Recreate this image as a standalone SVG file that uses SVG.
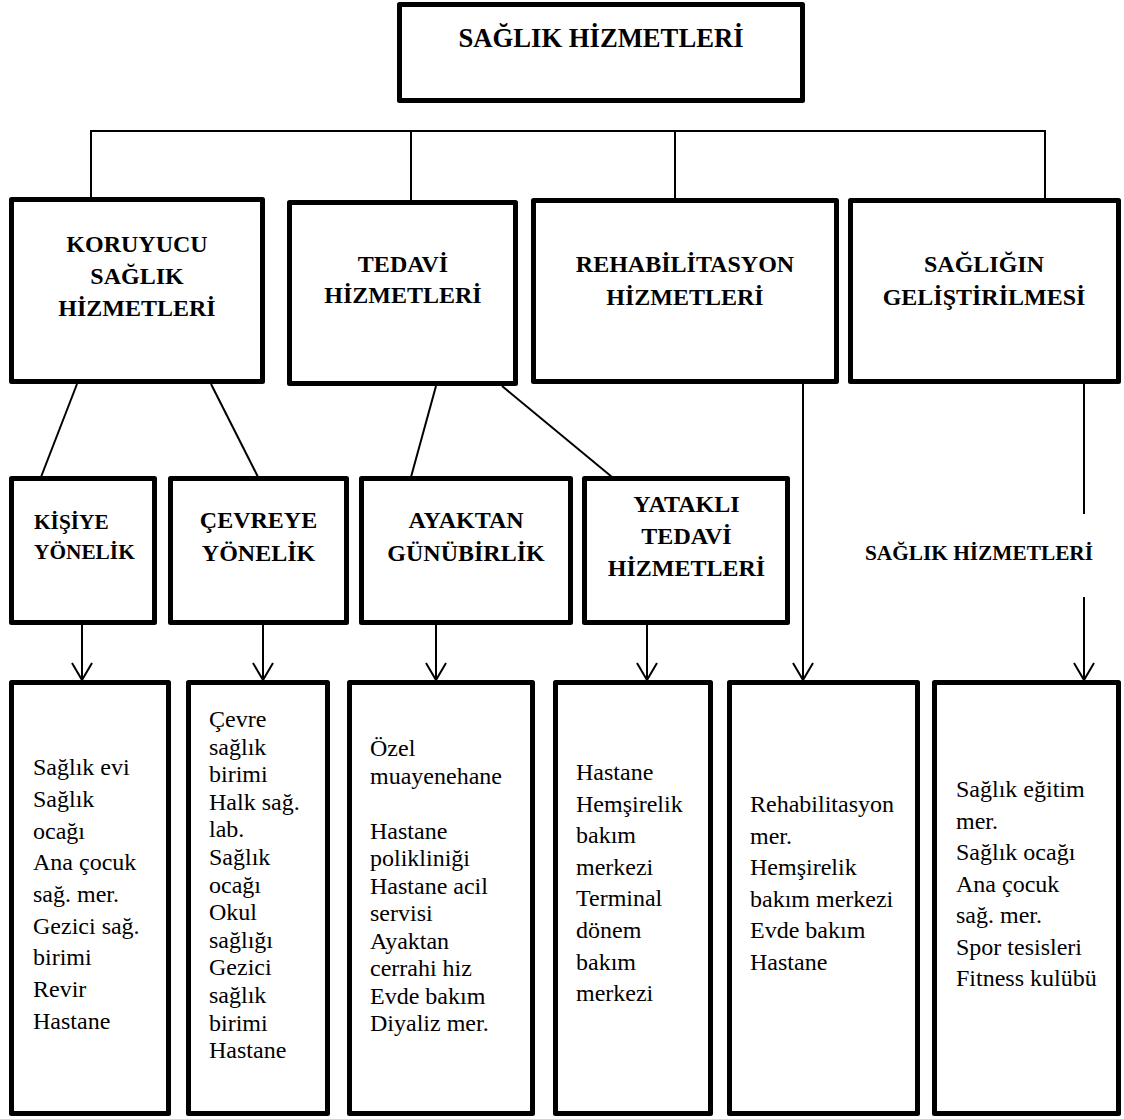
<svg xmlns="http://www.w3.org/2000/svg" width="1124" height="1119" viewBox="0 0 1124 1119">
<style>
  .box { fill: #fff; stroke: #000; stroke-width: 5; stroke-linejoin: round; }
  .ln { fill: none; stroke: #000; stroke-width: 2; }
  .arr { fill: none; stroke: #000; stroke-width: 2; marker-end: url(#ah); }
  text { font-family: 'Liberation Serif', 'Times New Roman', serif; fill: #000; }
  .h { font-weight: bold; }
  .h24 { font-size: 24px; text-anchor: middle; }
  .b { font-size: 24px; }
</style>
<defs>
  <marker id="ah" markerUnits="userSpaceOnUse" viewBox="-20 -12 22 24" markerWidth="22" markerHeight="24" refX="0" refY="0" orient="auto" overflow="visible">
    <path d="M -17 -10 L 0 0 L -17 10" fill="none" stroke="#000" stroke-width="2"/>
  </marker>
</defs>
<rect width="1124" height="1119" fill="#fff"/>

<g id="connectors">
  <path class="ln" d="M 91 199 V 131 H 1045 V 199"/>
  <path class="ln" d="M 411 131 V 201"/>
  <path class="ln" d="M 675 131 V 199"/>
  <path class="ln" d="M 77 384 L 41 477"/>
  <path class="ln" d="M 211 384 L 258 477"/>
  <path class="ln" d="M 436 386 L 411 477"/>
  <path class="ln" d="M 502 386 L 612 477"/>
  <path class="arr" d="M 82 623 V 680"/>
  <path class="arr" d="M 263 623 V 680"/>
  <path class="arr" d="M 436 623 V 680"/>
  <path class="arr" d="M 647 623 V 680"/>
  <path class="arr" d="M 803 384 V 680"/>
  <path class="ln" d="M 1084 384 V 514"/>
  <path class="arr" d="M 1084 597 V 680"/>
  <text class="h" x="979" y="560" font-size="21.33" text-anchor="middle">SAĞLIK HİZMETLERİ</text>
</g>

<g id="root">
  <rect class="box" x="399.5" y="4.5" width="403" height="96"/>
  <text class="h" x="601" y="47" font-size="26.67" text-anchor="middle">SAĞLIK HİZMETLERİ</text>
</g>

<g id="koruyucu">
  <rect class="box" x="11.5" y="199.5" width="251" height="182"/>
  <text class="h h24"><tspan x="137" y="252">KORUYUCU</tspan><tspan x="137" y="284">SAĞLIK</tspan><tspan x="137" y="316">HİZMETLERİ</tspan></text>
</g>
<g id="tedavi">
  <rect class="box" x="289.5" y="202.5" width="226" height="181"/>
  <text class="h h24"><tspan x="403" y="272">TEDAVİ</tspan><tspan x="403" y="303">HİZMETLERİ</tspan></text>
</g>
<g id="rehabilitasyon">
  <rect class="box" x="533.5" y="200.5" width="303" height="181"/>
  <text class="h h24"><tspan x="685" y="272">REHABİLİTASYON</tspan><tspan x="685" y="305">HİZMETLERİ</tspan></text>
</g>
<g id="gelistirilmesi">
  <rect class="box" x="850.5" y="200.5" width="268" height="181"/>
  <text class="h h24"><tspan x="984" y="272">SAĞLIĞIN</tspan><tspan x="984" y="305">GELİŞTİRİLMESİ</tspan></text>
</g>

<g id="kisiye">
  <rect class="box" x="11.5" y="478.5" width="143" height="144"/>
  <text class="h" font-size="21.33"><tspan x="34" y="529">KİŞİYE</tspan><tspan x="34" y="559">YÖNELİK</tspan></text>
</g>
<g id="cevreye">
  <rect class="box" x="170.5" y="478.5" width="176" height="144"/>
  <text class="h h24"><tspan x="258.5" y="528">ÇEVREYE</tspan><tspan x="258.5" y="561">YÖNELİK</tspan></text>
</g>
<g id="ayaktan">
  <rect class="box" x="361.5" y="478.5" width="209" height="144"/>
  <text class="h h24"><tspan x="466" y="528">AYAKTAN</tspan><tspan x="466" y="561">GÜNÜBİRLİK</tspan></text>
</g>
<g id="yatakli">
  <rect class="box" x="584.5" y="478.5" width="203" height="144"/>
  <text class="h h24"><tspan x="686.5" y="512">YATAKLI</tspan><tspan x="686.5" y="544">TEDAVİ</tspan><tspan x="686.5" y="576">HİZMETLERİ</tspan></text>
</g>

<g id="list1">
  <rect class="box" x="11.5" y="682.5" width="157" height="431"/>
  <text class="b"><tspan x="33" y="775">Sağlık evi</tspan><tspan x="33" y="807">Sağlık</tspan><tspan x="33" y="839">ocağı</tspan><tspan x="33" y="870">Ana çocuk</tspan><tspan x="33" y="902">sağ. mer.</tspan><tspan x="33" y="934">Gezici sağ.</tspan><tspan x="33" y="965">birimi</tspan><tspan x="33" y="997">Revir</tspan><tspan x="33" y="1029">Hastane</tspan></text>
</g>
<g id="list2">
  <rect class="box" x="188.5" y="682.5" width="139" height="431"/>
  <text class="b"><tspan x="209" y="727">Çevre</tspan><tspan x="209" y="754.6">sağlık</tspan><tspan x="209" y="782.2">birimi</tspan><tspan x="209" y="809.8">Halk sağ.</tspan><tspan x="209" y="837.4">lab.</tspan><tspan x="209" y="865">Sağlık</tspan><tspan x="209" y="892.6">ocağı</tspan><tspan x="209" y="920.2">Okul</tspan><tspan x="209" y="947.8">sağlığı</tspan><tspan x="209" y="975.4">Gezici</tspan><tspan x="209" y="1003">sağlık</tspan><tspan x="209" y="1030.6">birimi</tspan><tspan x="209" y="1058.2">Hastane</tspan></text>
</g>
<g id="list3">
  <rect class="box" x="349.5" y="682.5" width="183" height="431"/>
  <text class="b"><tspan x="370" y="756">Özel</tspan><tspan x="370" y="783.5">muayenehane</tspan><tspan x="370" y="838.5">Hastane</tspan><tspan x="370" y="866">polikliniği</tspan><tspan x="370" y="893.5">Hastane acil</tspan><tspan x="370" y="921">servisi</tspan><tspan x="370" y="948.5">Ayaktan</tspan><tspan x="370" y="976">cerrahi hiz</tspan><tspan x="370" y="1003.5">Evde bakım</tspan><tspan x="370" y="1031">Diyaliz mer.</tspan></text>
</g>
<g id="list4">
  <rect class="box" x="555.5" y="682.5" width="155" height="431"/>
  <text class="b"><tspan x="576" y="780">Hastane</tspan><tspan x="576" y="811.6">Hemşirelik</tspan><tspan x="576" y="843.2">bakım</tspan><tspan x="576" y="874.8">merkezi</tspan><tspan x="576" y="906.4">Terminal</tspan><tspan x="576" y="938">dönem</tspan><tspan x="576" y="969.6">bakım</tspan><tspan x="576" y="1001.2">merkezi</tspan></text>
</g>
<g id="list5">
  <rect class="box" x="729.5" y="682.5" width="188" height="431"/>
  <text class="b"><tspan x="750" y="812">Rehabilitasyon</tspan><tspan x="750" y="843.6">mer.</tspan><tspan x="750" y="875.2">Hemşirelik</tspan><tspan x="750" y="906.8">bakım merkezi</tspan><tspan x="750" y="938.4">Evde bakım</tspan><tspan x="750" y="970">Hastane</tspan></text>
</g>
<g id="list6">
  <rect class="box" x="934.5" y="682.5" width="184" height="431"/>
  <text class="b"><tspan x="956" y="797">Sağlık eğitim</tspan><tspan x="956" y="828.5">mer.</tspan><tspan x="956" y="860">Sağlık ocağı</tspan><tspan x="956" y="891.5">Ana çocuk</tspan><tspan x="956" y="923">sağ. mer.</tspan><tspan x="956" y="954.5">Spor tesisleri</tspan><tspan x="956" y="986">Fitness kulübü</tspan></text>
</g>
</svg>
